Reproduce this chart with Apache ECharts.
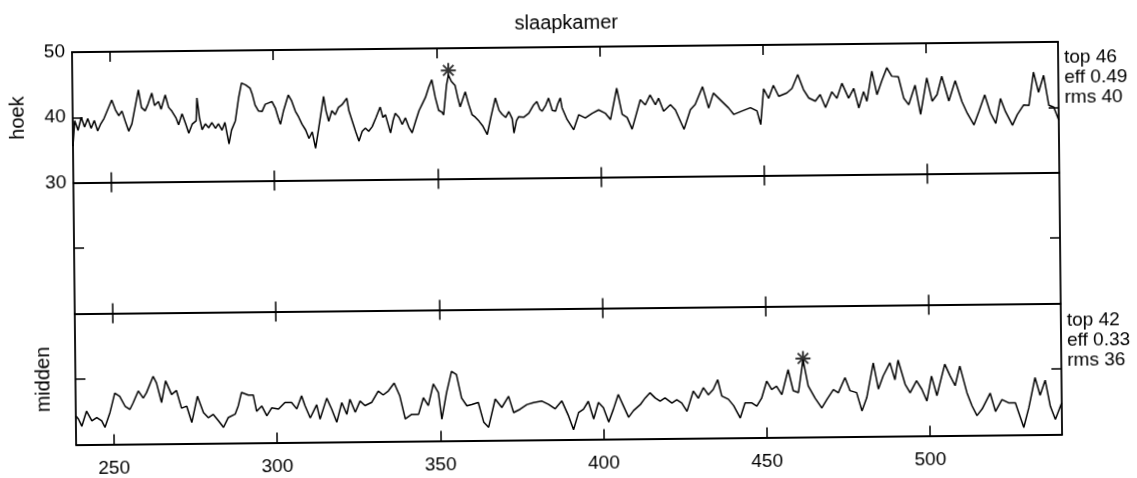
<!DOCTYPE html>
<html>
<head>
<meta charset="utf-8">
<title>slaapkamer</title>
<script src="https://cdn.jsdelivr.net/npm/echarts@6/dist/echarts.min.js"></script>
<style>
    html, body { margin: 0; padding: 0; background: #fff; }
    /* the scanned original sits slightly tilted */
    #chart { width: 1137px; height: 478px; transform: rotate(-0.6deg); transform-origin: 568px 239px; }
</style>
</head>
<body>
<div id="chart"></div>
<script>
    // x ticks (time) shown on every panel edge
    const xTicks = [250, 300, 350, 400, 450, 500];
    const yTicks = [30, 40, 50];

    // hoek trace [time, value]
    const hoekTrace = [
        [238.4, 35.6], [239, 39.5], [240, 38.0], [241, 40.0], [242, 38.5], [243, 39.8], [244, 38.3], [245, 39.5],
        [246, 37.9], [247, 39.0], [248, 39.8], [250.4, 42.6], [251.5, 41.1], [252.5, 40.2], [253.5, 40.9],
        [254.5, 39.3], [255.5, 37.8], [256.5, 38.9], [257.5, 41.4], [258.6, 44.1], [259.5, 41.4], [260.6, 40.9],
        [261.5, 41.9], [262.7, 43.6], [263.5, 41.7], [264.7, 42.3], [265.5, 41.1], [266.8, 43.3], [267.8, 41.4],
        [268.8, 40.8], [270, 39.8], [270.8, 38.7], [271.9, 40.4], [273, 38.8], [273.9, 37.4], [275, 38.8],
        [276.2, 39.3], [276.5, 42.8], [277.2, 39.8], [278, 37.9], [279, 38.8], [280, 38.2], [281, 39.0],
        [282.1, 38.1], [283, 38.8], [284.1, 37.8], [285, 39.0], [286.2, 35.7], [287, 37.8], [288.2, 39.2],
        [289.3, 42.8], [290.2, 45.0], [291.5, 44.7], [292.8, 44.2], [293.5, 43.2], [294.3, 41.6], [295.3, 40.7],
        [296.4, 40.6], [297.4, 41.7], [298.4, 41.9], [299.5, 42.1], [300.5, 41.1], [301.3, 39.7], [302, 38.6],
        [303, 40.7], [304.5, 43.1], [305.5, 42.2], [306.6, 40.6], [307.6, 39.7], [308.6, 38.6], [309.7, 37.7],
        [310.7, 36.4], [311.7, 37.4], [312.7, 34.9], [313.7, 37.9], [315.3, 42.8], [316, 40.6], [316.8, 39.0],
        [317.8, 40.6], [318.8, 40.0], [319.8, 41.1], [320.9, 41.5], [322.4, 42.5], [323, 40.6], [324, 39.0],
        [325, 37.4], [326, 35.9], [327, 37.4], [328, 37.9], [329, 37.4], [330.1, 38.1], [331.3, 39.5],
        [332.6, 41.1], [333.4, 39.5], [334.2, 39.9], [335.7, 37.1], [336.5, 39.0], [337.2, 40.1], [338.3, 39.5],
        [339.3, 38.4], [340.3, 39.4], [341.3, 38.0], [342.3, 37.1], [343.5, 39.0], [344.5, 40.5], [345.4, 41.4],
        [346.5, 42.5], [347.5, 44.0], [348.5, 45.2], [349.5, 42.5], [350.5, 40.5], [351.5, 40.2], [352, 39.8],
        [353, 44.4], [353.6, 45.9], [354.5, 44.9], [355.6, 44.3], [356.4, 42.4], [357.1, 41.0], [358.7, 43.3],
        [359.7, 41.4], [360.7, 39.8], [361.7, 39.4], [362.8, 38.8], [364, 38.0], [365.3, 36.7], [366.5, 39.4],
        [367.9, 42.3], [369, 40.4], [369.9, 39.8], [371, 39.3], [372, 40.2], [373, 39.1], [373.5, 36.9],
        [374.3, 38.8], [375, 39.4], [376.5, 39.3], [378.1, 39.9], [379.5, 41.1], [380.6, 41.7], [381.5, 40.5],
        [382.2, 40.2], [383.3, 41.1], [384.2, 42.2], [385.3, 40.3], [386.3, 40.2], [387, 41.3], [387.8, 42.2],
        [388.3, 40.7], [389.8, 38.9], [391.8, 37.3], [393.4, 39.6], [395.4, 39.1], [397.5, 39.8], [399.5, 40.3],
        [401.5, 39.8], [403.1, 38.8], [405.1, 43.6], [406.7, 39.6], [408.2, 39.1], [409.7, 37.3], [412.3, 41.8],
        [413.8, 41.0], [415.3, 42.5], [416.9, 41.0], [417.9, 42.0], [419.4, 40.0], [421.5, 41.0], [423, 40.2],
        [425.6, 37.2], [427.6, 40.2], [429.1, 41.0], [431.4, 43.7], [433.2, 40.4], [434.7, 42.7], [437.3, 41.4],
        [439.3, 40.4], [440.9, 39.4], [443.4, 39.9], [446, 40.4], [448, 39.9], [449.1, 37.8], [450.1, 43.3],
        [451.6, 41.8], [453.1, 43.8], [454.7, 42.1], [457.2, 42.6], [458.8, 43.3], [460.6, 45.4], [462.3, 43.1],
        [463.9, 41.8], [465.9, 41.3], [467.4, 42.3], [469, 40.3], [471, 42.7], [472.5, 41.7], [474.1, 44.0],
        [476.1, 41.7], [477.7, 43.2], [479.2, 40.2], [480.7, 42.7], [481.7, 41.2], [483.3, 45.8], [484.8, 42.2],
        [486.3, 44.3], [487.9, 46.3], [489.4, 45.0], [491.4, 44.9], [493, 41.6], [494.5, 40.6], [496.5, 43.6],
        [498.1, 39.1], [500.1, 44.7], [501.7, 41.1], [503.2, 42.1], [504.7, 44.9], [506.8, 41.1], [508.8, 44.2],
        [510.8, 41.0], [512.4, 39.2], [514.4, 37.4], [516, 39.5], [517.8, 42.0], [519.5, 39.2], [521.1, 37.6],
        [522.6, 41.4], [524.1, 39.4], [526.2, 37.3], [527.7, 38.9], [529.7, 40.4], [531.3, 40.3], [532.8, 45.4],
        [534.3, 42.3], [535.9, 44.9], [537.4, 40.3], [538.9, 40.0], [540.4, 38.0]
    ];

    // midden trace [time, value]
    const middenTrace = [
        [238.4, 34.4], [239.2, 33.9], [240.2, 32.8], [241.7, 35.1], [243.3, 33.6], [244.8, 34.1], [246.3, 33.6],
        [247.3, 32.6], [248.9, 34.9], [250.4, 37.8], [251.9, 37.3], [253.5, 35.8], [255, 35.3], [256, 36.3],
        [257.6, 38.1], [259.1, 37.0], [260.1, 37.8], [262.2, 40.3], [263.2, 39.3], [264.7, 36.3], [266, 39.6],
        [267.8, 37.5], [269.3, 38.1], [270.8, 35.4], [272.4, 35.7], [273.9, 33.2], [275.7, 37.2], [277.5, 34.7],
        [279, 33.9], [280.5, 34.4], [282.1, 33.4], [283.6, 32.4], [285.1, 33.9], [287.2, 34.4], [288.2, 35.7],
        [289.2, 37.7], [291.3, 37.3], [292.8, 37.3], [293.8, 34.8], [295.4, 35.6], [296.9, 34.1], [298.4, 35.3],
        [300.5, 35.1], [302.5, 36.1], [304.5, 36.1], [306.1, 35.1], [307.6, 37.1], [308.6, 35.6], [310.2, 33.7],
        [312.2, 35.7], [313.2, 33.5], [315.3, 36.7], [316.8, 35.0], [318.3, 33.0], [319.9, 36.0], [321.4, 34.2],
        [322.4, 36.5], [324, 34.5], [325.5, 36.2], [327, 35.5], [329.1, 36.0], [331.1, 37.7], [332.6, 37.1],
        [334.2, 37.7], [336, 38.9], [337.7, 36.9], [339.3, 33.4], [341.3, 34.1], [343.4, 34.1], [344.9, 36.6],
        [346.4, 35.4], [348, 38.7], [349.5, 37.4], [350.5, 33.3], [352, 37.3], [353.6, 40.6], [355.1, 40.1],
        [356.6, 36.5], [358.2, 35.3], [359.7, 35.5], [361.7, 35.8], [363.3, 32.8], [364.8, 32.0], [366.9, 36.3],
        [368.9, 35.0], [371, 36.7], [372.5, 34.2], [374.5, 34.7], [376.6, 35.4], [378.6, 35.7], [381.2, 35.9],
        [383.2, 35.4], [385.2, 34.7], [387.3, 35.9], [389.3, 33.6], [390.8, 31.5], [392.4, 34.1], [393.9, 34.6],
        [395.4, 35.8], [397, 33.1], [398.5, 35.6], [400, 34.8], [401.6, 32.6], [403.1, 34.6], [404.6, 36.8],
        [406.1, 35.1], [407.7, 33.3], [409.2, 34.3], [411.3, 35.2], [412.8, 36.2], [414.3, 37.0], [415.9, 36.2],
        [417.4, 35.7], [418.9, 36.2], [421, 35.4], [422.5, 35.9], [424, 35.4], [425.6, 34.1], [427.6, 37.2],
        [429.1, 36.1], [430.7, 37.7], [432.2, 36.6], [433.7, 37.4], [435.1, 38.9], [436.3, 36.4], [438.3, 35.9],
        [439.9, 34.9], [441.9, 33.0], [443.4, 35.3], [445.5, 35.3], [447, 34.8], [448.5, 36.0], [450.1, 38.6],
        [451.6, 37.3], [453.1, 37.8], [454.7, 36.5], [456.7, 40.3], [458.2, 37.1], [459.8, 36.8], [461.3, 41.8],
        [462.8, 37.8], [464.9, 35.9], [466.9, 34.4], [468.5, 35.7], [470.5, 37.2], [472, 36.7], [474.1, 39.0],
        [475.6, 37.0], [477.6, 36.7], [479.2, 33.9], [480.7, 35.9], [482.8, 41.2], [484.3, 37.2], [485.8, 39.2],
        [487.9, 41.2], [489.4, 38.6], [490.4, 41.6], [492.5, 37.9], [494, 36.6], [496, 38.4], [497.6, 37.1],
        [499.1, 35.3], [500.6, 39.1], [502.2, 36.1], [504.7, 40.9], [506.3, 39.1], [507.8, 37.6], [509.3, 40.6],
        [511.4, 36.5], [512.9, 34.5], [514.4, 33.0], [516, 34.0], [518.5, 36.4], [520.1, 33.6], [522.1, 35.4],
        [524.1, 34.9], [526.2, 34.9], [528.7, 31.1], [530.3, 34.1], [532.3, 38.7], [533.8, 36.0], [535.4, 38.3],
        [536.9, 34.3], [538.4, 32.3], [540.4, 34.8]
    ];

    // peak markers (asterisks)
    const hoekPeak = [[353.6, 46.6]];
    const middenPeak = [[461.3, 42.0]];

    // side notes
    const hoekStats = ['top 46', 'eff 0.49', 'rms 40'];
    const middenStats = ['top 42', 'eff 0.33', 'rms 36'];

    const FONT = '"Liberation Sans", Arial, Helvetica, sans-serif';
    const STAR = 'path://M8.7 0L11.3 0L11.3 20L8.7 20Z M0 8.7L20 8.7L20 11.3L0 11.3Z ' +
        'M2.1 3.9L3.9 2.1L17.9 16.1L16.1 17.9Z M16.1 2.1L17.9 3.9L3.9 17.9L2.1 16.1Z';

    const panels = [
        {top: 47, height: 130.5, name: 'hoek', nameGap: 45},
        {top: 177.5, height: 131, name: '', nameGap: 0},
        {top: 308.5, height: 131, name: 'midden', nameGap: 22}
    ];

    let myChart = echarts.init(document.getElementById('chart'), null, {renderer: 'canvas'});

    let xAxes = [];
    let yAxes = [];
    panels.forEach(function (p, i) {
        ['bottom', 'top'].forEach(function (pos) {
            xAxes.push({
                type: 'value', gridIndex: i, position: pos,
                min: 238.4, max: 540.4,
                axisLine: {show: true, lineStyle: {color: '#000', width: 1.8}},
                axisTick: {show: true, inside: true, length: 10, customValues: xTicks,
                    lineStyle: {color: '#000', width: 1.5}},
                axisLabel: {show: i === 2 && pos === 'bottom', customValues: xTicks, margin: 15,
                    color: '#000', fontSize: 19, fontFamily: FONT},
                splitLine: {show: false}
            });
        });
        ['left', 'right'].forEach(function (pos) {
            yAxes.push({
                type: 'value', gridIndex: i, position: pos,
                min: 30, max: 50, interval: 10,
                name: pos === 'left' ? p.name : '',
                nameLocation: 'middle', nameGap: p.nameGap,
                nameTextStyle: {color: '#000', fontSize: 20, fontFamily: FONT},
                axisLine: {show: true, lineStyle: {color: '#000', width: 1.8}},
                axisTick: {show: true, inside: true, length: 10, lineStyle: {color: '#000', width: 1.5}},
                axisLabel: {show: i === 0 && pos === 'left', margin: 7, showMinLabel: true, showMaxLabel: true,
                    customValues: yTicks, color: '#000', fontSize: 19, fontFamily: FONT},
                splitLine: {show: false}
            });
        });
    });

    let option = {
        animation: false,
        backgroundColor: '#fff',
        title: {
            text: 'slaapkamer', left: 'center', top: 8,
            textStyle: {color: '#000', fontSize: 20, fontWeight: 'normal', fontFamily: FONT}
        },
        grid: panels.map(function (p) {
            return {left: 74, width: 986, top: p.top, height: p.height};
        }),
        xAxis: xAxes,
        yAxis: yAxes,
        graphic: [
            {type: 'text', x: 1066, y: 53,
                style: {text: hoekStats.join('\n'), fill: '#000', fontSize: 19, fontFamily: FONT,
                    lineHeight: 20, verticalAlign: 'top'}},
            {type: 'text', x: 1066, y: 316,
                style: {text: middenStats.join('\n'), fill: '#000', fontSize: 19, fontFamily: FONT,
                    lineHeight: 20, verticalAlign: 'top'}}
        ],
        series: [
            {
                name: 'hoek', type: 'line', xAxisIndex: 0, yAxisIndex: 0,
                data: hoekTrace, showSymbol: false, symbol: 'none',
                lineStyle: {color: '#000', width: 1.5}
            },
            {
                name: 'hoek top', type: 'scatter', xAxisIndex: 0, yAxisIndex: 0,
                data: hoekPeak, symbol: STAR, symbolSize: 15, itemStyle: {color: '#000'}
            },
            {
                name: 'midden', type: 'line', xAxisIndex: 4, yAxisIndex: 4,
                data: middenTrace, showSymbol: false, symbol: 'none',
                lineStyle: {color: '#000', width: 1.5}
            },
            {
                name: 'midden top', type: 'scatter', xAxisIndex: 4, yAxisIndex: 4,
                data: middenPeak, symbol: STAR, symbolSize: 15, itemStyle: {color: '#000'}
            }
        ]
    };

    myChart.setOption(option);
</script>
</body>
</html>
